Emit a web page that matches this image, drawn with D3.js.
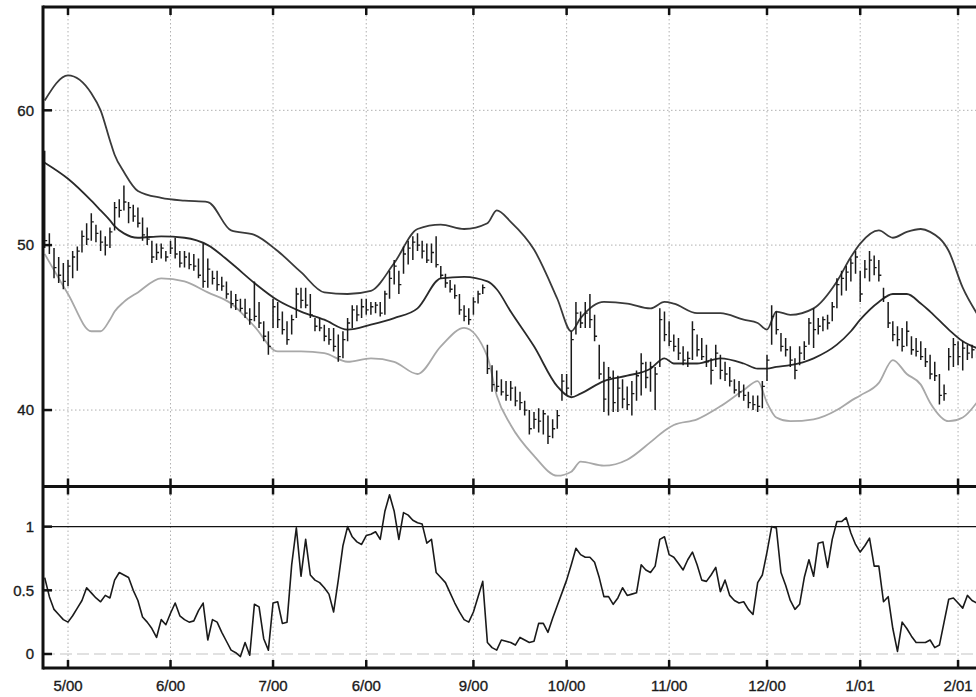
<!DOCTYPE html>
<html>
<head>
<meta charset="utf-8">
<script src="https://cdn.jsdelivr.net/npm/d3@7/dist/d3.min.js"></script>
<style>
  html, body { margin: 0; padding: 0; background: #fff; }
  svg { display: block; }
  text { font-family: "Liberation Sans", Arial, Helvetica, sans-serif; }
</style>
</head>
<body>
<svg id="chart" width="976" height="697"></svg>
<script>
// ---------------- DATA (trading-day index 0..200) ----------------
const monthTickIdx = [5, 27, 49, 69, 92, 112, 134, 155, 175, 196];
const monthLabels  = ["5/00", "6/00", "7/00", "6/00", "9/00", "10/00", "11/00", "12/00", "1/01", "2/01"];

const highs = [
 56.8,50.8,49.8,49.2,48.8,49.0,49.6,49.9,51.0,51.5,
 52.2,51.4,51.0,50.6,51.2,53.0,53.2,54.2,53.0,52.8,
 52.6,51.9,51.2,50.3,50.1,50.1,49.6,50.3,50.5,49.6,
 49.6,49.5,49.4,49.1,50.1,49.1,48.3,48.3,47.9,47.6,
 47.0,46.8,46.5,46.5,45.9,47.6,46.3,45.1,44.5,46.5,
 46.3,45.7,45.1,45.5,47.2,47.2,47.2,46.8,45.3,45.3,
 44.9,44.7,44.7,44.3,44.5,45.3,46.1,46.1,46.5,46.5,
 46.3,46.3,46.3,47.0,48.3,49.0,48.3,49.9,50.3,50.6,
 50.8,50.3,50.1,50.1,50.6,48.6,48.1,47.7,47.4,46.8,
 46.1,45.9,46.6,47.0,47.4,43.7,42.5,42.2,41.7,41.6,
 41.6,41.3,41.0,40.5,40.0,39.9,40.1,40.0,39.7,39.5,
 40.0,42.0,42.0,44.5,46.3,45.7,46.3,46.8,45.5,43.7,
 42.7,42.4,42.2,41.9,41.7,41.3,41.6,42.2,43.2,42.7,
 42.7,42.4,45.9,45.7,45.1,44.3,44.1,43.6,43.3,45.1,
 44.3,44.1,43.7,42.9,43.7,43.1,42.7,42.4,41.7,41.6,
 41.4,41.0,40.8,40.8,41.6,43.1,46.1,45.7,44.4,44.1,
 43.6,42.9,43.6,43.9,45.3,45.9,45.3,45.4,45.5,46.3,
 47.8,48.3,48.6,49.1,49.6,48.3,49.0,49.6,49.3,49.0,
 47.2,46.3,45.1,44.8,44.7,45.1,44.2,44.1,43.9,43.5,
 43.1,42.7,42.0,41.4,43.5,44.1,43.9,43.9,43.7,43.7,
 43.6];

const lows = [
 49.8,49.4,47.8,47.5,47.1,47.3,47.8,48.3,49.5,50.0,
 50.3,50.2,49.6,49.3,49.8,51.0,51.9,52.4,51.5,51.6,
 51.2,50.3,50.0,48.8,49.0,49.1,48.9,49.4,49.1,48.5,
 48.5,48.4,48.3,47.8,47.2,47.2,47.4,47.0,47.0,46.5,
 45.9,45.8,45.7,45.3,44.9,45.1,44.7,43.9,43.1,44.7,
 44.7,44.3,43.7,44.3,45.3,45.9,45.9,45.3,44.5,44.5,
 43.9,43.7,43.3,42.7,42.9,43.9,44.7,45.1,45.3,45.5,
 45.5,45.6,45.4,45.5,46.5,47.4,46.8,48.1,48.7,49.0,
 49.6,49.1,48.8,48.8,48.5,47.8,47.2,46.9,46.5,45.5,
 45.1,44.9,45.5,46.2,46.8,42.0,41.0,41.0,40.8,40.5,
 40.5,40.2,40.0,39.7,38.7,39.0,38.8,38.7,38.2,38.5,
 39.0,40.5,40.8,40.8,44.3,44.7,44.7,44.7,43.9,41.7,
 39.9,39.7,39.9,39.9,40.1,40.0,39.7,40.5,40.8,41.2,
 41.0,40.0,42.4,43.9,43.6,43.3,42.8,42.5,42.4,42.8,
 43.0,42.8,42.4,41.4,42.4,41.7,41.6,41.3,40.9,40.7,
 40.5,40.1,40.0,39.9,40.1,41.6,43.7,44.3,43.3,43.0,
 42.4,41.7,42.5,42.8,43.7,43.5,44.3,44.5,44.6,45.1,
 45.9,46.7,47.0,47.6,48.1,46.3,47.8,47.6,48.0,47.6,
 46.3,44.7,43.9,43.6,43.3,43.6,43.1,43.0,42.8,42.4,
 41.7,41.6,40.3,40.5,42.2,42.4,42.5,42.2,42.8,42.9,
 42.9];

const closes = [
 50.3,50.0,48.5,48.0,47.6,48.6,49.2,49.6,50.6,50.4,
 51.6,50.8,50.2,50.0,50.9,52.6,52.4,53.0,52.6,52.0,
 51.5,50.7,50.4,49.2,49.5,49.8,49.2,49.8,49.4,48.8,
 49.2,48.7,48.6,48.0,47.6,48.4,47.8,47.4,47.3,46.8,
 46.2,46.4,45.9,45.6,45.2,45.4,45.0,44.2,43.6,46.0,
 45.2,44.6,44.0,45.2,46.8,46.4,46.1,45.5,44.8,44.7,
 44.2,44.0,43.6,43.0,44.0,45.0,45.8,45.5,46.0,45.8,
 46.0,46.1,45.6,46.8,47.8,48.6,47.4,49.4,49.8,50.2,
 50.0,49.6,49.0,49.5,48.7,48.0,47.5,47.1,46.7,45.8,
 45.4,45.2,46.3,46.8,47.2,42.3,41.4,41.3,41.0,40.8,
 41.2,40.5,40.4,40.0,39.0,39.5,39.4,39.8,38.6,39.0,
 39.7,41.6,41.2,44.0,45.6,45.0,45.6,45.2,44.2,42.0,
 40.6,41.8,40.4,41.2,40.6,40.3,40.9,41.9,42.6,41.8,
 42.4,42.0,45.2,44.3,43.9,43.6,43.2,42.8,42.9,44.6,
 43.4,43.0,42.7,42.2,43.2,42.2,42.0,41.6,41.1,41.0,
 40.8,40.4,40.3,40.2,41.3,42.8,45.4,44.6,43.6,43.4,
 42.8,42.2,43.2,43.6,45.0,44.6,44.8,45.2,45.0,46.0,
 47.4,47.8,48.2,48.8,49.2,46.8,48.4,49.0,48.5,48.0,
 46.6,45.0,44.3,44.0,43.6,44.5,43.4,43.3,43.0,42.7,
 42.0,41.9,40.8,40.9,43.0,43.7,43.0,43.5,43.2,43.4,
 43.2];

const bandIdx = [0,5,10,12,14,15,17,20,25,30,35,40,45,50,55,60,65,70,75,80,85,90,95,97,100,105,110,113,115,120,125,130,133,135,140,145,150,153,155,157,160,165,170,173,175,179,182,185,188,190,194,197,200];
const upperBand = [60.8,62.9,61.4,60.0,57.6,56.5,55.2,53.8,53.3,53.1,53.0,51.0,50.7,49.6,48.2,46.9,46.8,47.0,48.8,51.1,51.4,51.1,51.5,52.4,51.6,49.7,46.5,44.5,45.3,46.3,46.2,45.9,46.3,46.2,45.6,45.6,45.2,45.0,44.6,45.7,45.5,45.9,47.6,49.2,50.1,51.0,50.5,50.9,51.1,50.9,49.6,47.2,45.6];
const middleBand = [55.9,54.7,53.1,52.4,51.7,51.3,50.8,50.5,50.6,50.5,50.0,48.8,47.5,46.4,45.7,45.2,44.6,44.9,45.3,45.9,47.8,47.9,47.6,47.1,45.7,43.6,41.3,40.7,40.9,41.6,41.9,42.3,42.9,42.6,42.6,42.9,42.6,42.3,42.3,42.4,42.5,42.9,43.7,44.5,45.2,46.3,46.8,46.8,46.2,45.7,44.6,43.9,43.5];
const lowerBand = [49.4,46.8,44.5,44.5,45.2,45.7,46.3,46.9,47.8,47.6,46.9,46.2,44.8,43.3,43.3,43.2,42.7,42.9,42.7,42.0,43.6,44.7,43.0,40.8,39.2,37.6,36.6,36.8,37.3,37.1,37.4,38.3,38.9,39.2,39.5,40.2,41.1,41.6,40.4,39.6,39.4,39.5,40.0,40.5,40.8,41.5,42.8,42.0,41.4,40.4,39.4,39.6,40.4];

const pctB = [
 0.60,0.45,0.35,0.31,0.27,0.25,0.30,0.36,0.42,0.52,
 0.48,0.44,0.41,0.46,0.44,0.58,0.64,0.62,0.60,0.50,
 0.42,0.29,0.25,0.20,0.13,0.27,0.23,0.32,0.40,0.30,
 0.27,0.25,0.26,0.34,0.40,0.11,0.27,0.25,0.17,0.10,
 0.03,0.01,-0.02,0.09,-0.01,0.39,0.37,0.12,0.03,0.40,
 0.41,0.24,0.25,0.70,0.99,0.61,0.90,0.62,0.58,0.56,
 0.52,0.47,0.33,0.58,0.85,1.00,0.92,0.88,0.86,0.93,
 0.94,0.96,0.90,1.12,1.25,1.12,0.90,1.11,1.09,1.05,
 1.03,1.02,0.87,0.90,0.64,0.60,0.56,0.48,0.40,0.33,
 0.27,0.25,0.33,0.45,0.57,0.09,0.05,0.03,0.11,0.10,
 0.09,0.07,0.13,0.11,0.09,0.10,0.24,0.24,0.17,0.28,
 0.38,0.48,0.58,0.70,0.83,0.78,0.76,0.76,0.72,0.60,
 0.45,0.45,0.39,0.44,0.52,0.46,0.47,0.48,0.70,0.66,
 0.64,0.69,0.90,0.92,0.78,0.76,0.71,0.66,0.74,0.80,
 0.70,0.58,0.57,0.62,0.68,0.49,0.58,0.46,0.42,0.40,
 0.41,0.35,0.31,0.56,0.62,0.80,1.00,0.99,0.64,0.54,
 0.42,0.35,0.39,0.60,0.74,0.61,0.87,0.88,0.68,0.90,
 1.04,1.04,1.07,0.95,0.86,0.80,0.85,0.91,0.69,0.69,
 0.41,0.45,0.20,0.02,0.25,0.20,0.14,0.09,0.09,0.09,
 0.11,0.05,0.07,0.25,0.43,0.44,0.40,0.36,0.46,0.42,
 0.40];

const priceTicks = [40, 50, 60];
const pctTicks = [0, 0.5, 1];
const pctTickLabels = ["0", "0.5", "1"];

// ---------------- LAYOUT ----------------
const W = 976, H = 697;
const left = 43, right = 995;
const topY0 = 7, topY1 = 486.5, botY0 = 486.5, botY1 = 668;

const svg = d3.select("#chart");
svg.append("rect").attr("width", W).attr("height", H).attr("fill", "#fff");

const x = d3.scaleLinear().domain([0, 200]).range([44.7, 976.7]);
const yP = d3.scaleLog().domain([36.07, 69.0]).range([topY1, topY0]);
const yB = d3.scaleLinear().domain([-0.11, 1.315]).range([botY1, botY0]);

const defs = svg.append("defs");
defs.append("clipPath").attr("id", "clipTop").append("rect")
  .attr("x", left).attr("y", topY0).attr("width", right - left).attr("height", topY1 - topY0);
defs.append("clipPath").attr("id", "clipBot").append("rect")
  .attr("x", left).attr("y", botY0).attr("width", right - left).attr("height", botY1 - botY0);

const font = "Liberation Sans, Arial, Helvetica, sans-serif";

// ---------------- GRID ----------------
const grid = svg.append("g");
[[topY0, topY1], [botY0, botY1]].forEach(([a, b]) => {
  grid.selectAll(null).data(monthTickIdx).enter().append("line")
    .attr("x1", d => x(d)).attr("x2", d => x(d)).attr("y1", a).attr("y2", b)
    .attr("stroke", "#b0b0b0").attr("stroke-width", 1).attr("stroke-dasharray", "1.5,2.5");
});
grid.selectAll(null).data(priceTicks).enter().append("line")
  .attr("x1", left).attr("x2", right).attr("y1", d => yP(d)).attr("y2", d => yP(d))
  .attr("stroke", "#b0b0b0").attr("stroke-width", 1).attr("stroke-dasharray", "1.5,2.5");
grid.append("line").attr("x1", left).attr("x2", right).attr("y1", yB(0.5)).attr("y2", yB(0.5))
  .attr("stroke", "#b0b0b0").attr("stroke-width", 1).attr("stroke-dasharray", "1.5,2.5");
grid.append("line").attr("x1", left).attr("x2", right).attr("y1", yB(0)).attr("y2", yB(0))
  .attr("stroke", "#c4c4c4").attr("stroke-width", 1.2).attr("stroke-dasharray", "12,5");
grid.append("line").attr("x1", left).attr("x2", right).attr("y1", yB(1)).attr("y2", yB(1))
  .attr("stroke", "#111").attr("stroke-width", 1.2);

// ---------------- TOP PANEL ----------------
const gTop = svg.append("g").attr("clip-path", "url(#clipTop)");
const bandLine = vals => d3.line()
  .x((d, i) => x(bandIdx[i])).y(d => yP(d)).curve(d3.curveMonotoneX)(vals);

gTop.append("path").attr("d", bandLine(lowerBand))
  .attr("fill", "none").attr("stroke", "#a8a8a8").attr("stroke-width", 1.8);
gTop.append("path").attr("d", bandLine(upperBand))
  .attr("fill", "none").attr("stroke", "#3a3a3a").attr("stroke-width", 1.8);
gTop.append("path").attr("d", bandLine(middleBand))
  .attr("fill", "none").attr("stroke", "#2a2a2a").attr("stroke-width", 1.8);

const idx = d3.range(highs.length);
const bars = gTop.append("g");
bars.selectAll(null).data(idx).enter().append("line")
  .attr("x1", i => x(i)).attr("x2", i => x(i))
  .attr("y1", i => yP(highs[i])).attr("y2", i => yP(lows[i]))
  .attr("stroke", "#1a1a1a").attr("stroke-width", 1.5);
bars.selectAll(null).data(idx).enter().append("line")
  .attr("x1", i => x(i)).attr("x2", i => x(i) + 2.5)
  .attr("y1", i => yP(closes[i])).attr("y2", i => yP(closes[i]))
  .attr("stroke", "#1a1a1a").attr("stroke-width", 1.3);

// ---------------- BOTTOM PANEL ----------------
const gBot = svg.append("g").attr("clip-path", "url(#clipBot)");
gBot.append("path")
  .attr("d", d3.line().x((d, i) => x(i)).y(d => yB(d))(pctB))
  .attr("fill", "none").attr("stroke", "#1a1a1a").attr("stroke-width", 1.6)
  .attr("stroke-linejoin", "round");

// ---------------- FRAME & TICKS ----------------
const frame = svg.append("g").attr("stroke", "#111").attr("stroke-width", 3);
frame.append("line").attr("x1", left).attr("x2", left).attr("y1", topY0 - 1.5).attr("y2", botY1 + 1.5);
frame.append("line").attr("x1", left).attr("x2", right).attr("y1", topY0).attr("y2", topY0);
frame.append("line").attr("x1", left).attr("x2", right).attr("y1", topY1).attr("y2", topY1);
frame.append("line").attr("x1", left).attr("x2", right).attr("y1", botY1).attr("y2", botY1);

const ticks = svg.append("g").attr("stroke", "#111").attr("stroke-width", 2.5);
monthTickIdx.forEach(d => {
  const xx = x(d);
  [[topY0, topY0 + 8], [topY1 - 8, topY1 + 8], [botY1 - 8, botY1]].forEach(([a, b]) => {
    ticks.append("line").attr("x1", xx).attr("x2", xx).attr("y1", a).attr("y2", b);
  });
});
priceTicks.forEach(v => {
  ticks.append("line").attr("x1", left).attr("x2", left + 9).attr("y1", yP(v)).attr("y2", yP(v));
});
pctTicks.forEach(v => {
  ticks.append("line").attr("x1", left).attr("x2", left + 9).attr("y1", yB(v)).attr("y2", yB(v));
});

// ---------------- LABELS ----------------
const labels = svg.append("g").attr("font-family", font).attr("font-size", 15)
  .attr("fill", "#1a1a1a").attr("stroke", "#1a1a1a").attr("stroke-width", 0.35);
priceTicks.forEach(v => {
  labels.append("text").attr("x", 34).attr("y", yP(v)).attr("dy", "0.35em")
    .attr("text-anchor", "end").text(String(v));
});
pctTicks.forEach((v, k) => {
  labels.append("text").attr("x", 34).attr("y", yB(v)).attr("dy", "0.35em")
    .attr("text-anchor", "end").text(pctTickLabels[k]);
});
monthTickIdx.forEach((d, k) => {
  labels.append("text").attr("x", x(d)).attr("y", 691)
    .attr("text-anchor", "middle").text(monthLabels[k]);
});
</script>
</body>
</html>
